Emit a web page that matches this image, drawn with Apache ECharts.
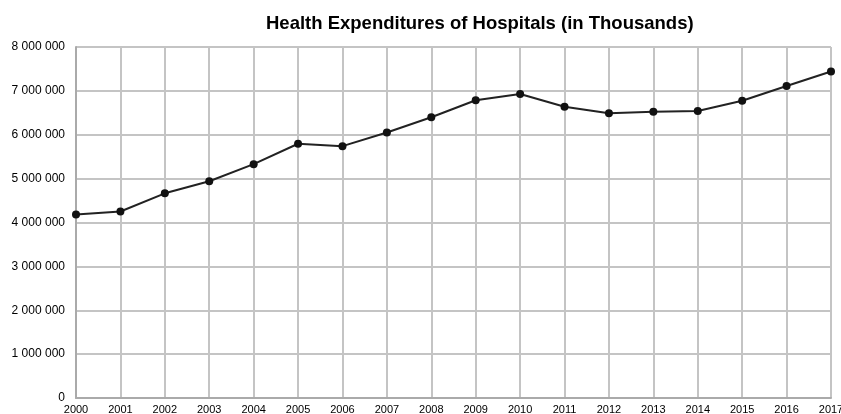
<!DOCTYPE html>
<html><head><meta charset="utf-8">
<script src="https://cdn.jsdelivr.net/npm/echarts@6/dist/echarts.min.js"></script>
<style>html,body{margin:0;padding:0;background:#fff}#c{width:841px;height:414px}</style>
</head><body><div id="c"></div>
<script>
const years = ['2000','2001','2002','2003','2004','2005','2006','2007','2008','2009','2010','2011','2012','2013','2014','2015','2016','2017'];
const expenditures = [4180000,4250000,4665000,4940000,5330000,5795000,5740000,6050000,6400000,6785000,6930000,6640000,6490000,6525000,6540000,6775000,7110000,7440000];
const chart = echarts.init(document.getElementById('c'));
chart.setOption({
  animation:false,
  backgroundColor:'#fff',
  title:{text:'Health Expenditures of Hospitals (in Thousands)',left:261,top:9,
    textStyle:{fontFamily:'Liberation Sans, Arial, sans-serif',fontSize:18.5,fontWeight:'bold',color:'#000'}},
  grid:{left:76,right:10,top:47,bottom:16,containLabel:false,outerBoundsMode:'none'},
  xAxis:{type:'category',data:years,boundaryGap:false,
    axisLine:{lineStyle:{color:'#aaa',width:2}},axisTick:{show:false},
    axisLabel:{color:'#000',fontFamily:'Liberation Sans, Arial, sans-serif',fontSize:11,margin:6,interval:0,hideOverlap:false},
    splitLine:{show:true,lineStyle:{color:'#c4c4c4',width:2}}},
  yAxis:{type:'value',min:0,max:8000000,interval:1000000,
    axisLine:{show:true,lineStyle:{color:'#aaa',width:2}},axisTick:{show:false},
    axisLabel:{color:'#000',fontFamily:'Liberation Sans, Arial, sans-serif',fontSize:12,margin:11,
      formatter:v=>String(v).replace(/\B(?=(\d{3})+(?!\d))/g,' ')},
    splitLine:{lineStyle:{color:'#c4c4c4',width:2}}},
  series:[{type:'line',data:expenditures,symbol:'circle',symbolSize:8,
    lineStyle:{color:'#222',width:2},itemStyle:{color:'#111'}}]
});
</script></body></html>
